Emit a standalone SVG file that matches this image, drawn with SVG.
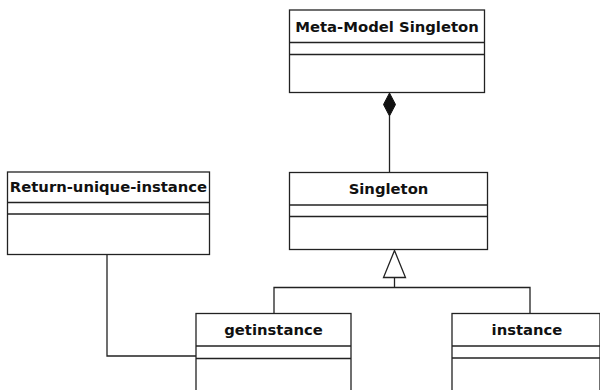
<svg xmlns="http://www.w3.org/2000/svg" width="600" height="390" viewBox="0 0 600 390">
<style>
.box{fill:#fff;stroke:#222;stroke-width:1.3}
.sep{stroke:#222;stroke-width:1.3;fill:none}
.lbl{font-family:"DejaVu Sans","Liberation Sans",sans-serif;font-weight:bold;font-size:14.8px;fill:#111;text-anchor:middle}
.conn{stroke:#222;stroke-width:1.3;fill:none}
</style>
<rect width="600" height="390" fill="#fff"/>
<g id="connectors">
<line class="conn" x1="389.5" y1="116" x2="389.5" y2="172"/>
<polygon points="389.5,93 395.5,104.5 389.5,116 383.5,104.5" fill="#111" stroke="#111" stroke-width="1"/>
<polyline class="conn" points="394.5,277 394.5,287.5"/>
<polygon points="394.5,250.5 405.5,277.5 383.5,277.5" fill="#fff" stroke="#222" stroke-width="1.3"/>
<polyline class="conn" points="274,313 274,287.5 530,287.5 530,313.5"/>
<polyline class="conn" points="107,254 107,356 196,356"/>
</g>
<g id="meta-model-singleton">
<rect class="box" x="289.5" y="10" width="195" height="82.5"/>
<line class="sep" x1="289.5" y1="42.5" x2="484.5" y2="42.5"/>
<line class="sep" x1="289.5" y1="54.5" x2="484.5" y2="54.5"/>
<text class="lbl" x="387" y="31.5">Meta-Model Singleton</text>
</g>
<g id="singleton">
<rect class="box" x="289.5" y="172.5" width="198" height="77"/>
<line class="sep" x1="289.5" y1="205" x2="487.5" y2="205"/>
<line class="sep" x1="289.5" y1="216.5" x2="487.5" y2="216.5"/>
<text class="lbl" x="388.5" y="194">Singleton</text>
</g>
<g id="return-unique-instance">
<rect class="box" x="7.5" y="172" width="202" height="82.5"/>
<line class="sep" x1="7.5" y1="202.5" x2="209.5" y2="202.5"/>
<line class="sep" x1="7.5" y1="214" x2="209.5" y2="214"/>
<text class="lbl" x="108.5" y="192">Return-unique-instance</text>
</g>
<g id="getinstance">
<rect class="box" x="196" y="313.5" width="155" height="90"/>
<line class="sep" x1="196" y1="346" x2="351" y2="346"/>
<line class="sep" x1="196" y1="358.5" x2="351" y2="358.5"/>
<text class="lbl" x="273.5" y="335">getinstance</text>
</g>
<g id="instance">
<rect class="box" x="452" y="313.5" width="148" height="90"/>
<line class="sep" x1="452" y1="346" x2="600" y2="346"/>
<line class="sep" x1="452" y1="358" x2="600" y2="358"/>
<text class="lbl" x="527" y="335">instance</text>
</g>
</svg>
